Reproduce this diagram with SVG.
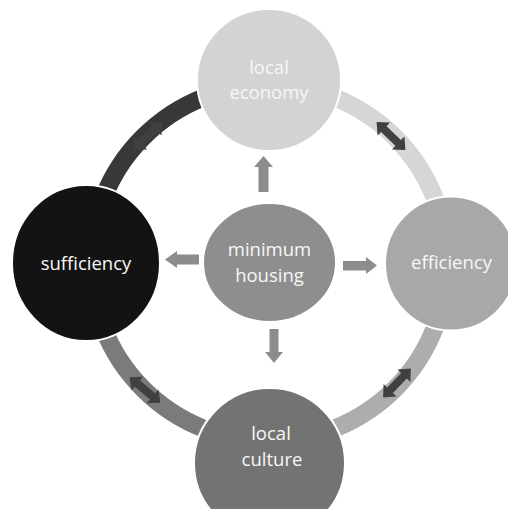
<svg xmlns="http://www.w3.org/2000/svg" width="508" height="509" viewBox="0 0 508 509">
  <style>
    .ring { fill: none; stroke-width: 18; }
    .node { stroke: #ffffff; stroke-width: 2; }
    .label { font-family: "Open Sans", "Liberation Sans", sans-serif; font-size: 18.5px; fill: #f7f7f7; text-anchor: middle; }
    .flow { fill: #8c8c8c; }
    .swap { fill: #404040; }
  </style>
  <defs>
    <!-- double-headed arrow along the x axis, centred on the origin -->
    <polygon id="dbl" points="-20,0 -10,-9 -10,-4 10,-4 10,-9 20,0 10,9 10,4 -10,4 -10,9"/>
  </defs>

  <!-- ring of four coloured quarter arcs, centred on the hub -->
  <g id="connectors">
    <path class="ring" stroke="#383838" d="M 91 263 A 178 178 0 0 1 269 85"/>
    <path class="ring" stroke="#d6d6d6" d="M 269 85 A 178 178 0 0 1 447 263"/>
    <path class="ring" stroke="#adadad" d="M 447 263 A 178 178 0 0 1 269 441"/>
    <path class="ring" stroke="#7b7b7b" d="M 269 441 A 178 178 0 0 1 91 263"/>

    <!-- two-way arrows sitting on the ring -->
    <use href="#dbl" class="swap" fill="#474747" transform="translate(148 136) rotate(-44)"/>
    <use href="#dbl" class="swap" transform="translate(391 136) rotate(44)"/>
    <use href="#dbl" class="swap" transform="translate(145 390) rotate(40)"/>
    <use href="#dbl" class="swap" transform="translate(397 383) rotate(-46)"/>

    <!-- block arrows from the hub outwards -->
    <polygon class="flow" points="263.5,156 273,167 268.5,167 268.5,192 258.5,192 258.5,167 254,167"/>
    <polygon class="flow" points="165,259.5 177,251 177,254.5 199,254.5 199,264.5 177,264.5 177,268 165,259.5"/>
    <polygon class="flow" points="377,265.5 366,257 366,261 343,261 343,270.5 366,270.5 366,274"/>
    <polygon class="flow" points="274,363 283,352 278.5,352 278.5,329 269.5,329 269.5,352 265,352"/>
  </g>

  <g id="local-economy">
    <ellipse class="node" cx="269" cy="80" rx="72" ry="71" fill="#d3d3d3"/>
    <text class="label" x="269" y="73.5">local</text>
    <text class="label" x="269" y="99">economy</text>
  </g>

  <g id="sufficiency">
    <ellipse class="node" cx="86" cy="263" rx="74" ry="78" fill="#131313"/>
    <text class="label" x="86" y="270">sufficiency</text>
  </g>

  <g id="efficiency">
    <ellipse class="node" cx="451" cy="263.5" rx="66" ry="67" fill="#a8a8a8"/>
    <text class="label" x="451.5" y="269">efficiency</text>
  </g>

  <g id="local-culture">
    <ellipse class="node" cx="269.5" cy="463" rx="75.5" ry="75" fill="#737373"/>
    <text class="label" x="271" y="440">local</text>
    <text class="label" x="272" y="465.5">culture</text>
  </g>

  <g id="minimum-housing">
    <ellipse class="node" cx="269.5" cy="262.5" rx="66.5" ry="59.5" fill="#8e8e8e"/>
    <text class="label" x="269.5" y="256">minimum</text>
    <text class="label" x="269.5" y="281.5">housing</text>
  </g>
</svg>
